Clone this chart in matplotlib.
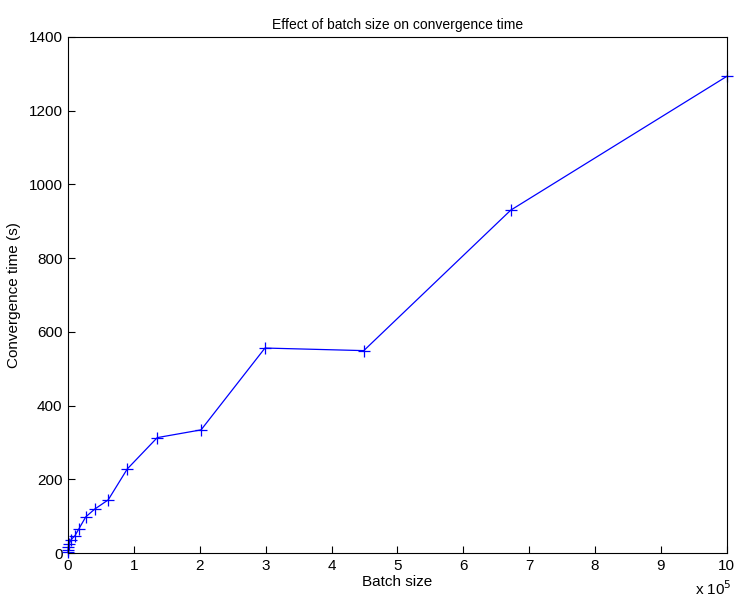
import matplotlib
matplotlib.use("Agg")
import matplotlib.pyplot as plt
import numpy as np

plt.rcParams['font.family'] = ['Liberation Sans', 'DejaVu Sans']

# batch sizes (units of 1e5) and convergence times (s)
batch_size = [0.0, 0.003, 0.007, 0.015, 0.046, 0.106, 0.167, 0.27, 0.405,
              0.61, 0.90, 1.355, 2.02, 2.99, 4.49, 6.72, 10.0]
conv_time = [3, 8, 15, 24, 36, 47, 66, 98, 119,
             144, 228, 313, 334, 556, 549, 930, 1293]

x_ticks = np.arange(0, 11, 1)
y_ticks = np.arange(0, 1401, 200)

fig = plt.figure(figsize=(7.47, 6.15), dpi=100)
ax = fig.add_axes([0.091, 0.1008, 0.882, 0.8392])

ax.plot(batch_size, conv_time, color='#0000ff', linewidth=0.9,
        marker='+', markersize=8, markeredgewidth=0.9, clip_on=False)

ax.set_xlim(0, 10)
ax.set_ylim(0, 1400)
ax.set_xticks(x_ticks)
ax.set_yticks(y_ticks)
ax.tick_params(direction='in', length=5, labelsize=11, pad=4)
for s in ax.spines.values():
    s.set_linewidth(0.8)

ax.set_xlabel("Batch size", fontsize=11, labelpad=2)
ax.set_ylabel("Convergence time (s)", fontsize=11, labelpad=5)
ax.set_title("Effect of batch size on convergence time", fontsize=10, pad=6)

fig.text(0.955, 0.043, r"x 10$^{5}$", fontsize=11, ha='center', va='center')

fig.savefig("out.png", dpi=100)
